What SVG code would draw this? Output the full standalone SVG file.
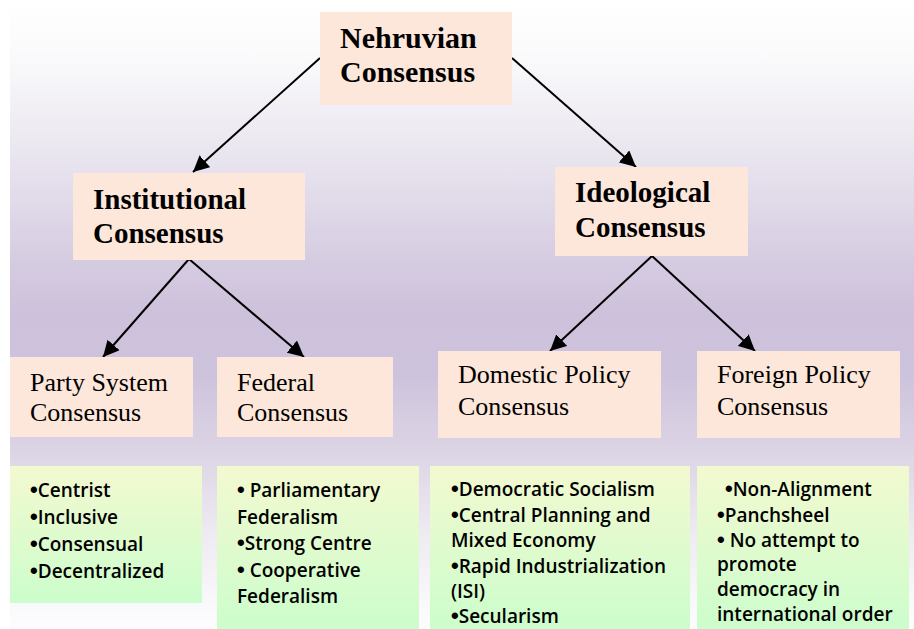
<svg xmlns="http://www.w3.org/2000/svg" width="914" height="629" viewBox="0 0 914 629">
<defs>
<linearGradient id="bg" x1="0" y1="0" x2="0" y2="1">
<stop offset="0" stop-color="#ffffff"/>
<stop offset="0.08" stop-color="#fbfbfc"/>
<stop offset="0.25" stop-color="#e9e5ef"/>
<stop offset="0.42" stop-color="#d5cbe1"/>
<stop offset="0.5" stop-color="#cdc1db"/>
<stop offset="0.6" stop-color="#cec3dc"/>
<stop offset="0.72" stop-color="#dcd5e5"/>
<stop offset="0.85" stop-color="#eeebf2"/>
<stop offset="1" stop-color="#fdfdfe"/>
</linearGradient>
<linearGradient id="lg" x1="0" y1="0" x2="0" y2="1">
<stop offset="0" stop-color="#f3f9d0"/>
<stop offset="1" stop-color="#ccfdcc"/>
</linearGradient>
<marker id="ah" viewBox="0 0 10 10" refX="10" refY="5" markerWidth="8" markerHeight="8" orient="auto" markerUnits="strokeWidth">
<path d="M0,0 L10,5 L0,10 z" fill="#000"/>
</marker>
<style>
.box{fill:#fce7da}
.list{fill:url(#lg)}
.h{font-family:"Liberation Serif","Times New Roman",serif;font-weight:bold;font-size:29px;fill:#000}
.m{font-family:"Liberation Serif","Times New Roman",serif;font-size:26px;fill:#000}
.l{font-family:"Open Sans","Noto Sans",sans-serif;font-weight:600;font-size:19px;fill:#000}
.b{font-family:"Liberation Sans",sans-serif;font-size:22px}
.c{stroke:#000;stroke-width:2;fill:none;marker-end:url(#ah)}
</style>
</defs>
<rect x="10" y="0" width="904" height="629" fill="url(#bg)"/>
<g id="connectors">
<line class="c" x1="320" y1="58" x2="193" y2="172"/>
<line class="c" x1="512" y1="58" x2="636" y2="167"/>
<line class="c" x1="189" y1="259" x2="103" y2="357"/>
<line class="c" x1="189" y1="259" x2="304" y2="357"/>
<line class="c" x1="652" y1="256" x2="550" y2="351"/>
<line class="c" x1="652" y1="256" x2="755" y2="351"/>
</g>
<g id="nehruvian">
<rect class="box" x="320" y="12" width="192" height="93"/>
<text class="h" x="340" y="48" style="font-size:30px">Nehruvian</text>
<text class="h" x="340" y="82" style="font-size:30px">Consensus</text>
</g>
<g id="institutional">
<rect class="box" x="73" y="173" width="232" height="87"/>
<text class="h" x="93" y="209">Institutional</text>
<text class="h" x="93" y="243">Consensus</text>
</g>
<g id="ideological">
<rect class="box" x="555" y="167" width="193" height="89"/>
<text class="h" x="575" y="202">Ideological</text>
<text class="h" x="575" y="237">Consensus</text>
</g>
<g id="party">
<rect class="box" x="10" y="357" width="183" height="80"/>
<text class="m" x="30" y="391">Party System</text>
<text class="m" x="30" y="421">Consensus</text>
</g>
<g id="federal">
<rect class="box" x="217" y="357" width="176" height="80"/>
<text class="m" x="237" y="391">Federal</text>
<text class="m" x="237" y="421">Consensus</text>
</g>
<g id="domestic">
<rect class="box" x="438" y="351" width="223" height="87"/>
<text class="m" x="458" y="383">Domestic Policy</text>
<text class="m" x="458" y="415">Consensus</text>
</g>
<g id="foreign">
<rect class="box" x="697" y="351" width="203" height="87"/>
<text class="m" x="717" y="383">Foreign Policy</text>
<text class="m" x="717" y="415">Consensus</text>
</g>
<g id="party-list">
<rect class="list" x="10" y="466" width="192" height="137"/>
<text class="l" x="30" y="497"><tspan class="b">•</tspan>Centrist</text>
<text class="l" x="30" y="524"><tspan class="b">•</tspan>Inclusive</text>
<text class="l" x="30" y="551"><tspan class="b">•</tspan>Consensual</text>
<text class="l" x="30" y="578"><tspan class="b">•</tspan>Decentralized</text>
</g>
<g id="federal-list">
<rect class="list" x="217" y="466" width="202" height="163"/>
<text class="l" x="237" y="497"><tspan class="b">•</tspan> Parliamentary</text>
<text class="l" x="237" y="524">Federalism</text>
<text class="l" x="237" y="550"><tspan class="b">•</tspan>Strong Centre</text>
<text class="l" x="237" y="577"><tspan class="b">•</tspan> Cooperative</text>
<text class="l" x="237" y="603">Federalism</text>
</g>
<g id="domestic-list">
<rect class="list" x="430" y="466" width="260" height="163"/>
<text class="l" x="451" y="496"><tspan class="b">•</tspan>Democratic Socialism</text>
<text class="l" x="451" y="522"><tspan class="b">•</tspan>Central Planning and</text>
<text class="l" x="451" y="547">Mixed Economy</text>
<text class="l" x="451" y="573"><tspan class="b">•</tspan>Rapid Industrialization</text>
<text class="l" x="451" y="598">(ISI)</text>
<text class="l" x="451" y="623"><tspan class="b">•</tspan>Secularism</text>
</g>
<g id="foreign-list">
<rect class="list" x="697" y="466" width="212" height="163"/>
<text class="l" x="725" y="496"><tspan class="b">•</tspan>Non-Alignment</text>
<text class="l" x="717" y="522"><tspan class="b">•</tspan>Panchsheel</text>
<text class="l" x="717" y="547"><tspan class="b">•</tspan> No attempt to</text>
<text class="l" x="717" y="571">promote</text>
<text class="l" x="717" y="596">democracy in</text>
<text class="l" x="717" y="621">international order</text>
</g>
</svg>
